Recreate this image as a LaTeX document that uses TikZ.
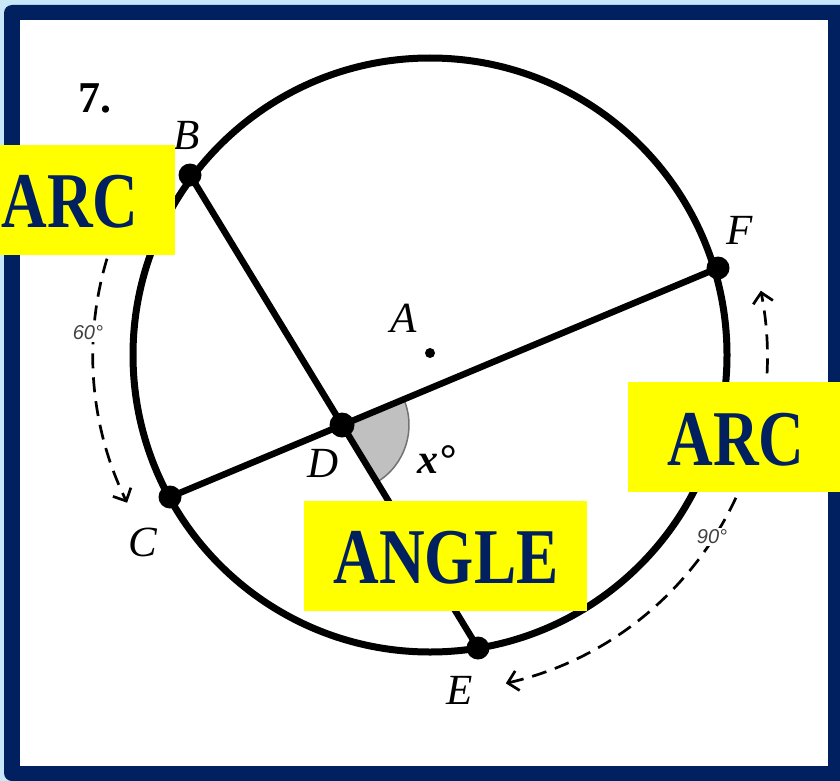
\documentclass[tikz,border=0pt]{standalone}
\usepackage{fontspec}
\setmainfont{Liberation Serif}
\newfontfamily\boxfont{Liberation Serif}[FakeStretch=0.8]
\newfontfamily\degfont{Liberation Sans}
\definecolor{navy}{RGB}{0,32,96}
\definecolor{skyback}{RGB}{200,232,250}
\definecolor{hlyellow}{RGB}{255,255,0}
\definecolor{shade}{RGB}{192,192,192}
\usetikzlibrary{arrows.meta}

\begin{document}
\begin{tikzpicture}[x=1pt, y=-1pt, every node/.style={inner sep=0pt},
  pt/.style={circle, fill=black, minimum size=23pt},
  lbl/.style={font=\fontsize{43}{43}\selectfont\itshape},
  deg/.style={font=\degfont\itshape\fontsize{20}{20}\selectfont, text=black!75, fill=white, inner sep=2pt},
  measure/.style={line width=2.7pt, dash pattern=on 15pt off 9pt},
  barb/.tip={Straight Barb[length=10pt, width=20pt]},
  hlbox/.style={fill=hlyellow, minimum height=110pt},
  hltext/.style={font=\boxfont\bfseries\fontsize{79}{79}\selectfont, text=navy, anchor=base}]
\useasboundingbox (0,0) rectangle (840,781);
\clip (0,0) rectangle (840,781);
% frame
\fill[skyback] (0,0) rectangle (840,781);
\fill[navy, rounded corners=8pt] (4,5) rectangle (870,781);
\fill[white] (20,20) rectangle (828,766);
% circle and points
\node[draw, circle, line width=7pt, minimum size=594pt] (circ) at (430,355) {};
\node[circle, fill=black, minimum size=10pt] (A) at (430,353) {};
\node[pt] (B) at (190,175) {};
\node[pt] (C) at (170,497) {};
\node[pt] (E) at (478,648) {};
\node[pt] (F) at (718,268) {};
\coordinate (D) at (342,425);
% angle x
\filldraw[fill=shade, draw=black!55, line width=1.5pt] (D) -- ++(-22.7:67) arc[start angle=-22.7, end angle=58.6, radius=67] -- cycle;
% chords
\draw[line width=6.5pt] (B.center) -- (E.center);
\draw[line width=6.5pt] (C.center) -- (F.center);
\node[pt, minimum size=25pt] (Ddot) at (D) {};
% labels
\node[font=\bfseries\fontsize{44}{44}\selectfont] (num) at (95,98) {7.};
\node[lbl] (Blbl) at (187,135) {B};
\node[lbl] (Flbl) at (740,230) {F};
\node[lbl] (Albl) at (404,318) {A};
\node[lbl] (Dlbl) at (323,463) {D};
\node[lbl] (Clbl) at (143,542) {C};
\node[lbl] (Elbl) at (460,690) {E};
\node[font=\bfseries\itshape\fontsize{42}{42}\selectfont] (xlbl) at (436,460) {x°};
% arc measures
\draw[measure, -barb] (430,355) ++(217:337) arc[start angle=217, end angle=154, radius=337];
\draw[measure, barb-barb] (430,355) ++(77:337) arc[start angle=77, end angle=-11, radius=337];
\node[deg] (sixty) at (88,333) {60°};
\node[deg] (ninety) at (712,537) {90°};
% highlight boxes
\node[hlbox, minimum width=175pt] (arcLbox) at (87.5,200) {};
\node[hltext] (arcL) at (70,227) {ARC};
\node[hlbox, minimum width=212pt] (arcRbox) at (734,437) {};
\node[hltext] (arcR) at (736,465) {ARC};
\node[hlbox, minimum width=283pt] (angbox) at (445.5,556) {};
\node[hltext] (ang) at (446,583) {ANGLE};
\end{tikzpicture}
\end{document}
